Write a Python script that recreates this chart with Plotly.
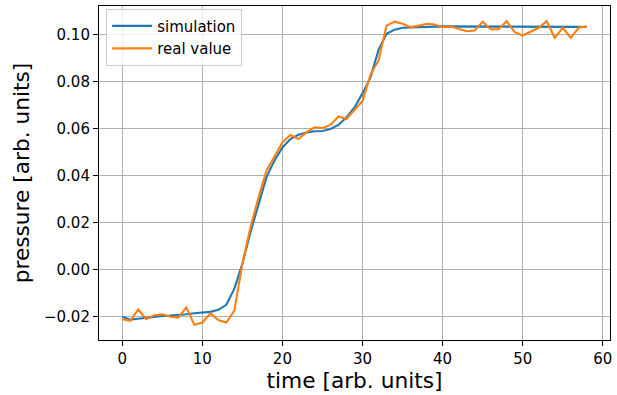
import numpy as np
import plotly.graph_objects as go

# time axis
time = list(range(59))

# simulated pressure curve
simulation = [
    -0.0200, -0.0212, -0.0208, -0.0204, -0.0199, -0.0196, -0.0195, -0.0193,
    -0.0189, -0.0185, -0.0182, -0.0179, -0.0170, -0.0149, -0.0080,
    0.0025, 0.0158, 0.0280, 0.0393, 0.0464, 0.0520, 0.0556, 0.0574, 0.0584,
    0.0589, 0.0590, 0.0599, 0.0616, 0.0648, 0.0690, 0.0750, 0.0818, 0.0935,
    0.1003, 0.1021, 0.1029, 0.1031, 0.1033, 0.1034, 0.1034, 0.1035, 0.1035,
    0.1035, 0.1036, 0.1036, 0.1036, 0.1035, 0.1035, 0.1035, 0.1035, 0.1035,
    0.1035, 0.1036, 0.1036, 0.1035, 0.1035, 0.1034, 0.1033, 0.1032,
]

# measured pressure
real_value = [
    -0.0210, -0.0217, -0.0169, -0.0210, -0.0193, -0.0189, -0.0200, -0.0203,
    -0.0160, -0.0234, -0.0224, -0.0186, -0.0214, -0.0224, -0.0174,
    0.0026, 0.0179, 0.0306, 0.0420, 0.0480, 0.0542, 0.0573, 0.0556, 0.0584,
    0.0606, 0.0603, 0.0616, 0.0652, 0.0641, 0.0680, 0.0718, 0.0830, 0.0890,
    0.1038, 0.1055, 0.1046, 0.1031, 0.1038, 0.1046, 0.1043, 0.1031, 0.1034,
    0.1024, 0.1014, 0.1017, 0.1055, 0.1023, 0.1023, 0.1057, 0.1010, 0.0996,
    0.1014, 0.1029, 0.1057, 0.0986, 0.1029, 0.0986, 0.1029, 0.1035,
]

x_ticks = [0, 10, 20, 30, 40, 50, 60]
y_ticks = [-0.02, 0.00, 0.02, 0.04, 0.06, 0.08, 0.10]

FONT = "DejaVu Sans"

# 5% padding around the data, like matplotlib's auto-scaling
def padded(lo, hi, frac=0.05):
    span = hi - lo
    return [lo - frac * span, hi + frac * span]

x_range = padded(min(time), max(time))
all_y = np.array(simulation + real_value)
y_range = padded(all_y.min(), all_y.max())

fig = go.Figure()
fig.add_trace(go.Scatter(
    x=time, y=simulation, mode="lines", name="simulation",
    line=dict(color="#1f77b4", width=2.1),
))
fig.add_trace(go.Scatter(
    x=time, y=real_value, mode="lines", name="real value",
    line=dict(color="#ff7f0e", width=2.1),
))

axis_common = dict(
    showline=True, mirror=True, linecolor="black", linewidth=1.1,
    ticks="outside", ticklen=5, tickwidth=1.1, tickcolor="black",
    showgrid=True, gridcolor="#b0b0b0", gridwidth=1.1, zeroline=False,
    tickfont=dict(family=FONT, size=15, color="black"),
)

fig.update_xaxes(
    range=x_range, tickvals=x_ticks, ticktext=[str(v) for v in x_ticks],
    title=dict(text="time [arb. units]", font=dict(family=FONT, size=21.7, color="black"),
               standoff=5),
    **axis_common,
)
fig.update_yaxes(
    range=y_range, tickvals=y_ticks, tickformat=".2f",
    title=dict(text="pressure [arb. units]", font=dict(family=FONT, size=21.7, color="black"),
               standoff=8),
    **axis_common,
)

fig.update_layout(
    width=617, height=395,
    margin=dict(l=99, r=5, t=5, b=55),
    paper_bgcolor="white", plot_bgcolor="white",
    font=dict(family=FONT, size=15, color="black"),
    showlegend=True,
    legend=dict(
        x=0.014, y=0.992, xanchor="left", yanchor="top",
        bgcolor="rgba(255,255,255,0.8)", bordercolor="#cccccc", borderwidth=1,
        font=dict(family=FONT, size=15, color="black"),
        itemwidth=40,
    ),
)

fig.write_html("out.html")
